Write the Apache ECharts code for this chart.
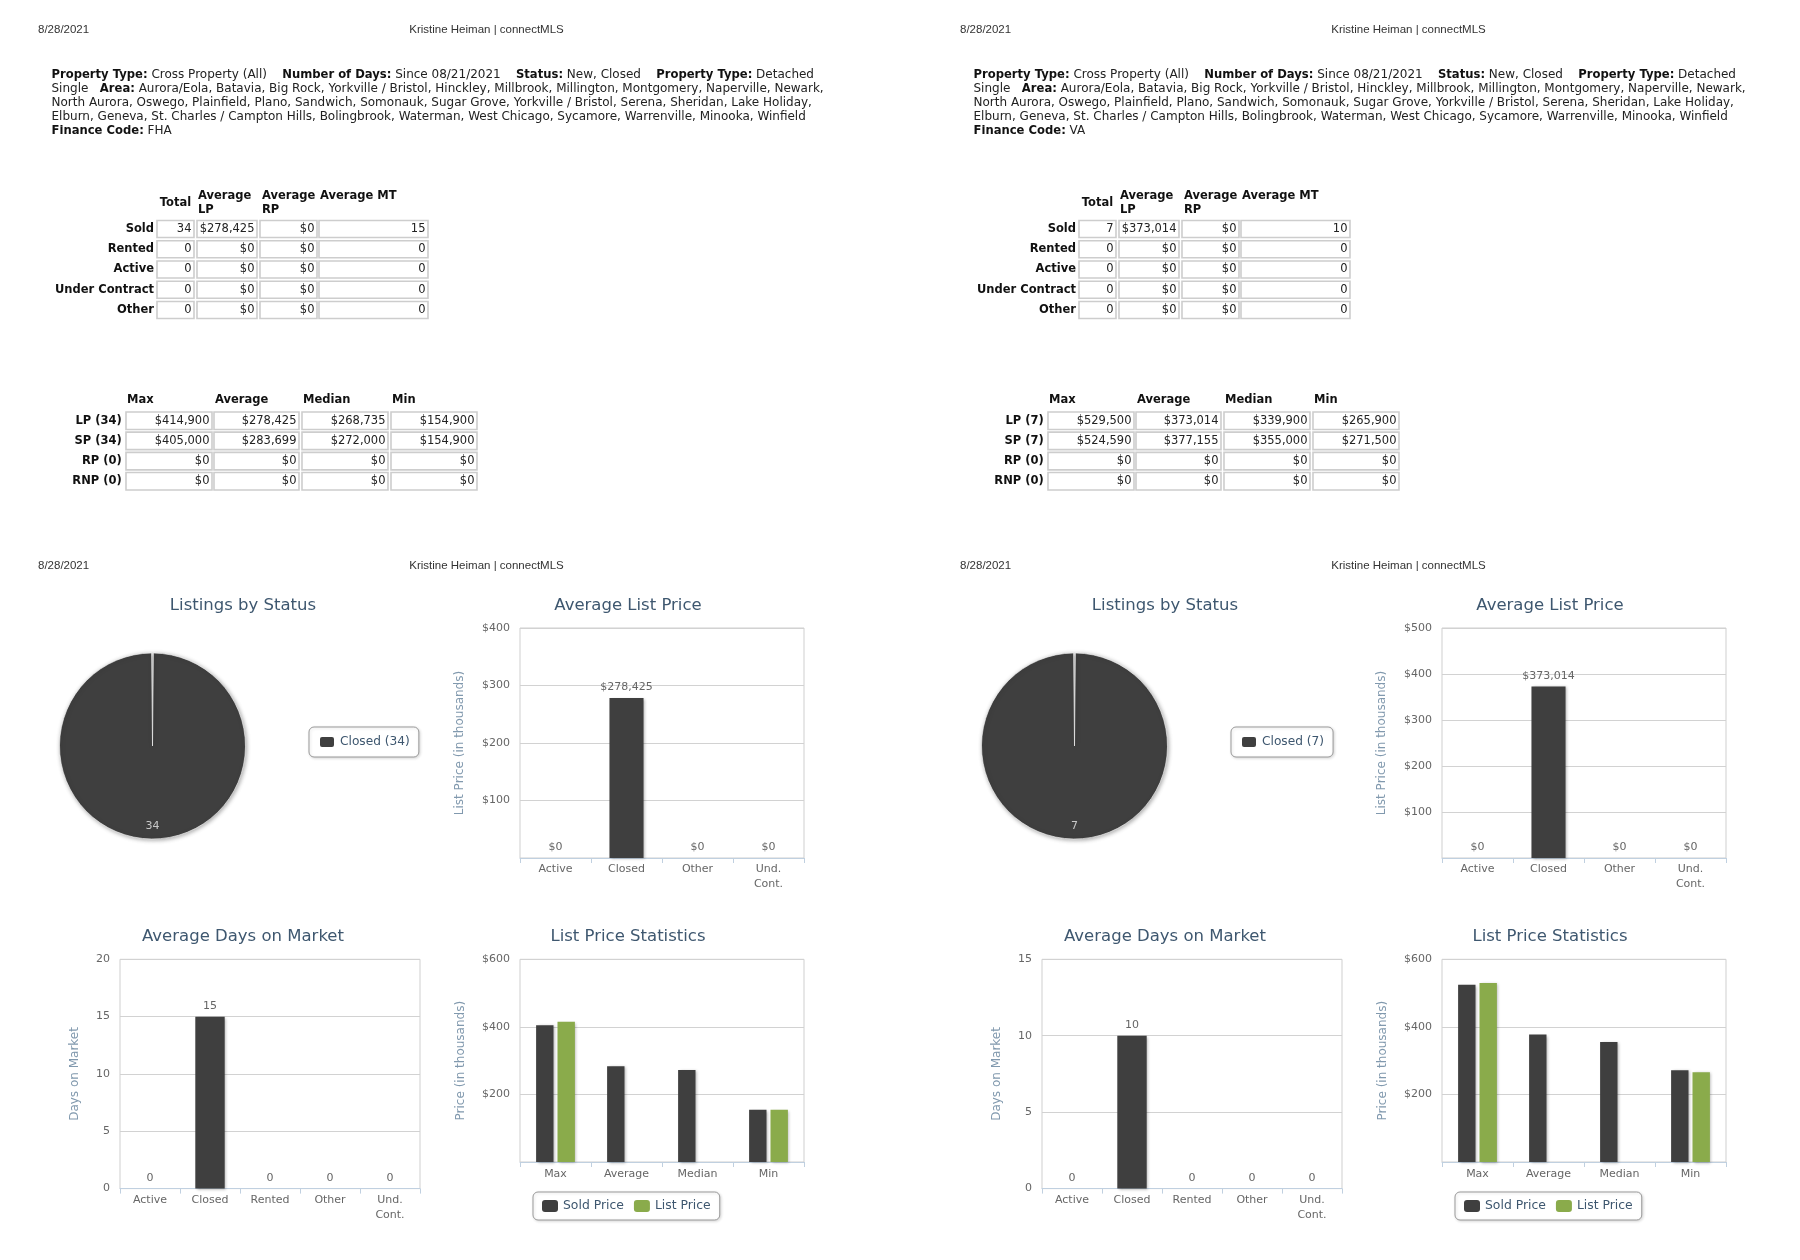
<!DOCTYPE html>
<html>
<head>
<meta charset="utf-8">
<script src="https://cdn.jsdelivr.net/npm/echarts@6/dist/echarts.min.js"></script>
<style>
html,body{margin:0;padding:0;background:#fff;}
#chart{width:1800px;height:1260px;}
</style>
</head>
<body>
<div id="chart"></div>
<script>
// ---------------- DATA ----------------
const reportDate = '8/28/2021';
const reportAuthor = 'Kristine Heiman | connectMLS';
const financeCodes = ['FHA', 'VA'];
const criteriaLines = [
  '{b|Property Type:} Cross Property (All)    {b|Number of Days:} Since 08/21/2021    {b|Status:} New, Closed    {b|Property Type:} Detached',
  'Single   {b|Area:} Aurora/Eola, Batavia, Big Rock, Yorkville / Bristol, Hinckley, Millbrook, Millington, Montgomery, Naperville, Newark,',
  'North Aurora, Oswego, Plainfield, Plano, Sandwich, Somonauk, Sugar Grove, Yorkville / Bristol, Serena, Sheridan, Lake Holiday,',
  'Elburn, Geneva, St. Charles / Campton Hills, Bolingbrook, Waterman, West Chicago, Sycamore, Warrenville, Minooka, Winfield'
];
const financeLabel = 'Finance Code:';

const statusRows = ['Sold', 'Rented', 'Active', 'Under Contract', 'Other'];
const statusHeaders = ['Total', 'Average\nLP', 'Average\nRP', 'Average MT'];
const fhaStatusTotal = [34, 0, 0, 0, 0];
const fhaStatusAvgLP = [278425, 0, 0, 0, 0];
const fhaStatusAvgRP = [0, 0, 0, 0, 0];
const fhaStatusAvgMT = [15, 0, 0, 0, 0];
const vaStatusTotal = [7, 0, 0, 0, 0];
const vaStatusAvgLP = [373014, 0, 0, 0, 0];
const vaStatusAvgRP = [0, 0, 0, 0, 0];
const vaStatusAvgMT = [10, 0, 0, 0, 0];

const priceHeaders = ['Max', 'Average', 'Median', 'Min'];
const priceKinds = ['LP', 'SP', 'RP', 'RNP'];
const fhaPriceCounts = [34, 34, 0, 0];
const vaPriceCounts = [7, 7, 0, 0];
const fhaLP = [414900, 278425, 268735, 154900];
const fhaSP = [405000, 283699, 272000, 154900];
const fhaRP = [0, 0, 0, 0];
const fhaRNP = [0, 0, 0, 0];
const vaLP = [529500, 373014, 339900, 265900];
const vaSP = [524590, 377155, 355000, 271500];
const vaRP = [0, 0, 0, 0];
const vaRNP = [0, 0, 0, 0];

const chartTitles = ['Listings by Status', 'Average List Price', 'Average Days on Market', 'List Price Statistics'];
const listingStatuses = ['Closed'];
const fhaListingCounts = [34];
const vaListingCounts = [7];

const avgPriceCategories = ['Active', 'Closed', 'Other', 'Und.\nCont.'];
const fhaAvgListPrice = [0, 278425, 0, 0];
const vaAvgListPrice = [0, 373014, 0, 0];
const avgPriceAxisMax = [400000, 500000];

const domCategories = ['Active', 'Closed', 'Rented', 'Other', 'Und.\nCont.'];
const fhaAvgDom = [0, 15, 0, 0, 0];
const vaAvgDom = [0, 10, 0, 0, 0];
const domAxisMax = [20, 15];

const statCategories = ['Max', 'Average', 'Median', 'Min'];
const statSeriesNames = ['Sold Price', 'List Price'];
const fhaStatSold = [405000, 283699, 272000, 154900];
const fhaStatList = [414900, null, null, 154900];
const vaStatSold = [524590, 377155, 355000, 271500];
const vaStatList = [529500, null, null, 265900];
const statAxisMax = 600000;

// ---------------- STYLE / LAYOUT ----------------
const FONT = '"DejaVu Sans", Verdana, sans-serif';
const HEAD_FONT = '"Liberation Sans", Arial, sans-serif';
const DARK = '#3f3f3f';
const GREEN = '#8aab4b';
const TITLE_C = '#3E576F';
const LABEL_C = '#666666';
const AXIS_TITLE_C = '#8199ae';
const GRID_C = '#d2d2d2';

const fmtMoney = v => '$' + Number(v).toLocaleString('en-US');
const fmtPlain = v => String(v);

const pages = [
  { dx: 0, finance: financeCodes[0],
    status: [fhaStatusTotal, fhaStatusAvgLP, fhaStatusAvgRP, fhaStatusAvgMT],
    priceCounts: fhaPriceCounts, prices: [fhaLP, fhaSP, fhaRP, fhaRNP],
    listing: fhaListingCounts, avgPrice: fhaAvgListPrice, avgMax: avgPriceAxisMax[0],
    dom: fhaAvgDom, domMax: domAxisMax[0], statSold: fhaStatSold, statList: fhaStatList },
  { dx: 922, finance: financeCodes[1],
    status: [vaStatusTotal, vaStatusAvgLP, vaStatusAvgRP, vaStatusAvgMT],
    priceCounts: vaPriceCounts, prices: [vaLP, vaSP, vaRP, vaRNP],
    listing: vaListingCounts, avgPrice: vaAvgListPrice, avgMax: avgPriceAxisMax[1],
    dom: vaAvgDom, domMax: domAxisMax[1], statSold: vaStatSold, statList: vaStatList }
];

const statusFormat = [fmtPlain, fmtMoney, fmtMoney, fmtPlain];
const LAY = {
  headY: [30, 566], dateX: 38, authorX: 486.5,
  paraX: 51.5, paraY: 74.6, paraStep: 14.1,
  st: { labelX: 154, rowY: 229, rowStep: 20.25, cellH: 17,
        cols: [[157, 37], [197, 60], [260, 57], [319, 109]],
        headX: [175.5, 198, 262, 320], headAlign: ['center', 'left', 'left', 'left'],
        headY: [203, 203, 203, 196] },
  pt: { labelX: 121.7, headY: 400.5, rowY: 420.7, rowStep: 20.2, cellH: 17.5,
        cols: [[126, 86], [214, 85], [302, 86], [391, 86]] },
  titleY: [606, 937], titleX: [243, 628],
  pie: { cx: 152.5, cy: 746, r: 93 },
  pieLegend: { left: 309, top: 727 },
  statLegend: { left: 533, top: 1192 },
  gAvg: { left: 520, top: 628, width: 284, height: 230 },
  gDom: { left: 120, top: 959.3, width: 300, height: 229.3 },
  gStat: { left: 520, top: 959.3, width: 284, height: 202.7 }
};

function txt(x, y, text, opt) {
  return { type: 'text', x: x, y: y, silent: true,
    style: Object.assign({ text: text, fill: '#111', fontSize: 11, fontFamily: FONT,
      align: 'left', verticalAlign: 'middle' }, opt || {}) };
}
function cellRect(x, y, w, h) {
  return { type: 'rect', silent: true, shape: { x: x, y: y, width: w, height: h },
    style: { fill: '#fff', stroke: '#cdcdcd', lineWidth: 1.6 } };
}

const graphics = [];
const grids = [], xAxes = [], yAxes = [], series = [], legends = [];

pages.forEach((p, pi) => {
  const dx = p.dx;
  // page headers (top page and bottom page)
  LAY.headY.forEach(hy => {
    graphics.push(txt(LAY.dateX + dx, hy, reportDate, { fontFamily: HEAD_FONT, fontSize: 11.5, fill: '#333' }));
    graphics.push(txt(LAY.authorX + dx, hy, reportAuthor, { fontFamily: HEAD_FONT, fontSize: 11.5, fill: '#333', align: 'center' }));
  });
  // criteria paragraph
  const lines = criteriaLines.concat(['{b|' + financeLabel + '} ' + p.finance]);
  lines.forEach((ln, i) => {
    graphics.push(txt(LAY.paraX + dx, LAY.paraY + i * LAY.paraStep, ln, {
      fontSize: 12, fill: '#222',
      rich: { b: { fontWeight: 'bold', fontSize: 11.6, fontFamily: FONT, fill: '#111' } }
    }));
  });
  // status table
  const st = LAY.st;
  statusHeaders.forEach((h, c) => {
    graphics.push(txt(st.headX[c] + dx, st.headY[c], h, { fontWeight: 'bold', fontSize: 11.5, lineHeight: 14, align: st.headAlign[c] }));
  });
  statusRows.forEach((r, ri) => {
    const y = st.rowY + ri * st.rowStep;
    graphics.push(txt(st.labelX + dx, y, r, { fontWeight: 'bold', fontSize: 11.5, align: 'right' }));
    st.cols.forEach((col, c) => {
      graphics.push(cellRect(col[0] + dx, y - st.cellH / 2, col[1], st.cellH));
      graphics.push(txt(col[0] + col[1] - 2.5 + dx, y, statusFormat[c](p.status[c][ri]), { fontSize: 11.5, align: 'right', fill: '#222' }));
    });
  });
  // price table
  const pt = LAY.pt;
  priceHeaders.forEach((h, c) => {
    graphics.push(txt(pt.cols[c][0] + 1 + dx, pt.headY, h, { fontWeight: 'bold', fontSize: 11.5 }));
  });
  priceKinds.forEach((k, ri) => {
    const y = pt.rowY + ri * pt.rowStep;
    graphics.push(txt(pt.labelX + dx, y, k + ' (' + p.priceCounts[ri] + ')', { fontWeight: 'bold', fontSize: 11.5, align: 'right' }));
    pt.cols.forEach((col, c) => {
      graphics.push(cellRect(col[0] + dx, y - pt.cellH / 2, col[1], pt.cellH));
      graphics.push(txt(col[0] + col[1] - 2.5 + dx, y, fmtMoney(p.prices[ri][c]), { fontSize: 11.5, align: 'right', fill: '#222' }));
    });
  });
  // chart titles
  chartTitles.forEach((t, ti) => {
    graphics.push(txt(LAY.titleX[ti % 2] + dx, LAY.titleY[Math.floor(ti / 2)], t, { fontSize: 16.5, fill: TITLE_C, align: 'center' }));
  });

  // pie
  const pieNames = listingStatuses.map((s, i) => s + ' (' + p.listing[i] + ')');
  series.push({
    type: 'pie', name: 'Listings ' + pi, center: [LAY.pie.cx + dx, LAY.pie.cy], radius: LAY.pie.r,
    startAngle: 90, clockwise: true, padAngle: 1.1, silent: true, animation: false,
    data: listingStatuses.map((s, i) => ({ name: pieNames[i], value: p.listing[i] })),
    itemStyle: { color: DARK, borderColor: '#ffffff', borderWidth: 0.6,
      shadowBlur: 4, shadowColor: 'rgba(0,0,0,0.35)', shadowOffsetX: 1, shadowOffsetY: 1 },
    label: { show: true, position: 'inside', formatter: '{c}', color: '#c8c8c8', fontSize: 11, fontFamily: FONT },
    labelLayout: { dy: 31 },
    labelLine: { show: false },
    emphasis: { disabled: true }
  });
  legends.push({
    left: LAY.pieLegend.left + dx, top: LAY.pieLegend.top, data: pieNames,
    itemWidth: 16, itemHeight: 12, itemGap: 10, padding: [8, 9], icon: 'roundRect',
    borderColor: '#9a9a9a', borderWidth: 1, borderRadius: 5, backgroundColor: '#fff',
    shadowBlur: 3, shadowColor: 'rgba(0,0,0,0.15)', shadowOffsetX: 1, shadowOffsetY: 1,
    textStyle: { color: TITLE_C, fontSize: 12.2, fontFamily: FONT }, selectedMode: false
  });

  // grids
  const gBase = grids.length;
  [LAY.gAvg, LAY.gDom, LAY.gStat].forEach(g => {
    grids.push({ left: g.left + dx, top: g.top, width: g.width, height: g.height,
      show: true, borderColor: '#cfcfcf', borderWidth: 1, backgroundColor: 'transparent',
      containLabel: false, outerBoundsMode: 'none' });
  });

  const catAxis = (gi, data, margin) => ({
    type: 'category', gridIndex: gi, data: data,
    axisLine: { show: true, lineStyle: { color: '#C0D0E0', width: 1 } },
    axisTick: { show: true, length: 5, lineStyle: { color: '#C0D0E0' } },
    axisLabel: { color: LABEL_C, fontSize: 11, fontFamily: FONT, margin: margin, lineHeight: 15, interval: 0 },
    splitLine: { show: false }
  });
  const valAxis = (gi, max, interval, fmt, name, nameGap, showMin) => ({
    type: 'value', gridIndex: gi, min: 0, max: max, interval: interval,
    axisLine: { show: false }, axisTick: { show: false },
    splitLine: { show: true, lineStyle: { color: GRID_C, width: 1 } },
    axisLabel: { color: LABEL_C, fontSize: 11, fontFamily: FONT, margin: 10, formatter: fmt, showMinLabel: showMin },
    name: name, nameLocation: 'middle', nameGap: nameGap, nameRotate: 90,
    nameTextStyle: { color: AXIS_TITLE_C, fontSize: 12, fontFamily: FONT }
  });
  const kFmt = v => (v === 0 ? '' : '$' + (v / 1000));

  xAxes.push(catAxis(gBase, avgPriceCategories, 4));
  yAxes.push(valAxis(gBase, p.avgMax, 100000, kFmt, 'List Price (in thousands)', 54, false));
  xAxes.push(catAxis(gBase + 1, domCategories, 4.5));
  yAxes.push(valAxis(gBase + 1, p.domMax, 5, v => String(v), 'Days on Market', 39, true));
  xAxes.push(catAxis(gBase + 2, statCategories, 4.5));
  yAxes.push(valAxis(gBase + 2, statAxisMax, 200000, kFmt, 'Price (in thousands)', 53, false));

  const barShadow = { shadowBlur: 3, shadowColor: 'rgba(0,0,0,0.3)', shadowOffsetX: 1.5, shadowOffsetY: 1 };
  series.push({
    type: 'bar', name: 'Average List Price', xAxisIndex: gBase, yAxisIndex: gBase,
    data: p.avgPrice, barWidth: '48%', silent: true,
    itemStyle: Object.assign({ color: DARK }, barShadow),
    label: { show: true, position: 'top', distance: 5, color: LABEL_C, fontSize: 11, fontFamily: FONT,
      formatter: q => fmtMoney(q.value) }
  });
  series.push({
    type: 'bar', name: 'Average Days on Market', xAxisIndex: gBase + 1, yAxisIndex: gBase + 1,
    data: p.dom, barWidth: '49%', silent: true,
    itemStyle: Object.assign({ color: DARK }, barShadow),
    label: { show: true, position: 'top', distance: 5, color: LABEL_C, fontSize: 11, fontFamily: FONT, formatter: '{c}' }
  });
  series.push({
    type: 'bar', name: statSeriesNames[0], xAxisIndex: gBase + 2, yAxisIndex: gBase + 2,
    data: p.statSold, barWidth: '24.5%', barGap: '23%', silent: true,
    itemStyle: Object.assign({ color: DARK }, barShadow)
  });
  series.push({
    type: 'bar', name: statSeriesNames[1], xAxisIndex: gBase + 2, yAxisIndex: gBase + 2,
    data: p.statList, barWidth: '24.5%', barGap: '23%', silent: true,
    itemStyle: Object.assign({ color: GREEN }, barShadow)
  });
  legends.push({
    left: LAY.statLegend.left + dx, top: LAY.statLegend.top, data: statSeriesNames,
    itemWidth: 16, itemHeight: 12, itemGap: 10, padding: [8, 9], icon: 'roundRect',
    borderColor: '#9a9a9a', borderWidth: 1, borderRadius: 5, backgroundColor: '#fff',
    shadowBlur: 3, shadowColor: 'rgba(0,0,0,0.15)', shadowOffsetX: 1, shadowOffsetY: 1,
    textStyle: { color: TITLE_C, fontSize: 12.4, fontFamily: FONT }, selectedMode: false
  });
});

const chart = echarts.init(document.getElementById('chart'), null, { renderer: 'canvas', width: 1800, height: 1260 });
chart.setOption({
  animation: false,
  backgroundColor: '#ffffff',
  textStyle: { fontFamily: FONT },
  tooltip: { show: false },
  grid: grids,
  xAxis: xAxes,
  yAxis: yAxes,
  legend: legends,
  series: series,
  graphic: { elements: graphics }
});
</script>
</body>
</html>
